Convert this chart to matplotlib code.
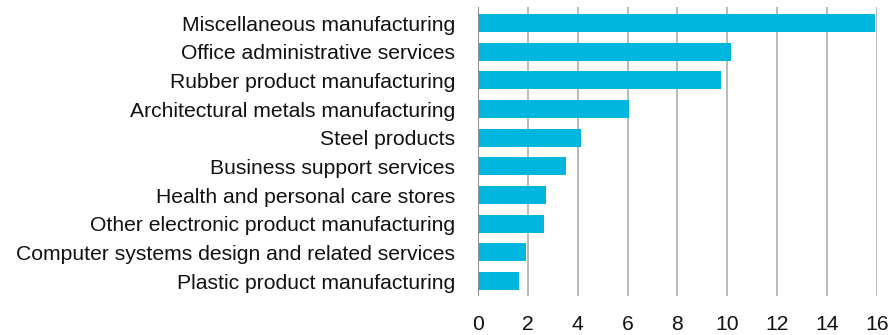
import matplotlib.pyplot as plt

plt.rcParams['font.family'] = ['Liberation Sans', 'DejaVu Sans']

industries = [
    'Miscellaneous manufacturing',
    'Office administrative services',
    'Rubber product manufacturing',
    'Architectural metals manufacturing',
    'Steel products',
    'Business support services',
    'Health and personal care stores',
    'Other electronic product manufacturing',
    'Computer systems design and related services',
    'Plastic product manufacturing',
]
values = [15.9, 10.1, 9.7, 6.0, 4.1, 3.5, 2.7, 2.6, 1.9, 1.6]
xticks = [0, 2, 4, 6, 8, 10, 12, 14, 16]

fig = plt.figure(figsize=(8.92, 3.35), dpi=100)
ax = fig.add_axes([0.5359, 0.1164, 0.4470, 0.8627])

pos = list(range(len(industries)))
ax.barh(pos, values, height=0.63, left=0.04, color='#00B5DE', zorder=3)

ax.set_ylim(len(industries) - 1 + 0.52, -0.56)
ax.set_xlim(0, 16)
ax.set_yticks(pos)
ax.set_yticklabels(industries, fontsize=15.2, color='#111111')
ax.set_xticks(xticks)
ax.set_xticklabels([str(t) for t in xticks], fontsize=15.2, color='#111111')
ax.tick_params(axis='both', length=0)
ax.tick_params(axis='y', pad=16.5)
ax.tick_params(axis='x', pad=13.5)

for s in ax.spines.values():
    s.set_visible(False)
ax.grid(axis='x', color='#b3b3b3', linewidth=1.3, zorder=0)
ax.axvline(0, color='#8f8f8f', linewidth=1.5, zorder=4)

fig.savefig('out.png', dpi=100)
